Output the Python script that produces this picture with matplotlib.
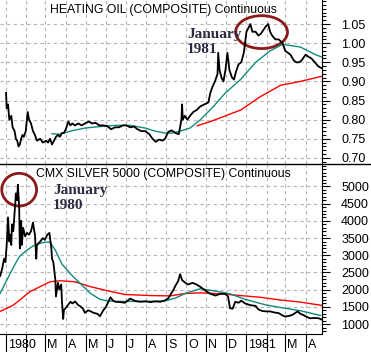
import matplotlib
matplotlib.use('Agg')
import matplotlib.pyplot as plt
import matplotlib.dates as mdates
import pandas as pd
from matplotlib.patches import Ellipse
from matplotlib.lines import Line2D
from matplotlib.transforms import ScaledTranslation

plt.rcParams['font.family'] = ['Liberation Sans', 'DejaVu Sans']

# days counted from 1980-01-01
oil_day = [0, 1, 3, 5, 8, 10, 13, 15, 17, 19, 21, 23, 25, 27, 30, 33, 35, 38, 41, 44,
           47, 52, 56, 61, 64, 67, 70, 73, 76, 79, 82, 85, 88, 91, 95, 98, 101, 105, 110, 115,
           120, 126, 131, 136, 142, 148, 154, 160, 166, 172, 178, 183, 189, 195, 200, 206, 212, 218, 223, 228,
           233, 238, 242, 247, 252, 258, 263, 267, 268, 269, 272, 276, 280, 285, 290, 296, 302, 308, 311, 314,
           318, 320, 322, 323, 325, 328, 331, 334, 337, 340, 344, 347, 350, 354, 358, 362, 366, 369, 372, 375,
           380, 384, 388, 392, 396, 399, 402, 405, 410, 415, 421, 425, 429, 433, 438, 442, 446, 450, 456, 460,
           465, 470, 475, 480]
oil_px = [0.87, 0.83, 0.84, 0.80, 0.81, 0.78, 0.77, 0.75, 0.745, 0.73, 0.735, 0.75, 0.76, 0.755, 0.77, 0.82, 0.80, 0.79, 0.77, 0.76,
          0.745, 0.75, 0.74, 0.745, 0.74, 0.75, 0.735, 0.745, 0.755, 0.76, 0.755, 0.765, 0.765, 0.775, 0.795, 0.785, 0.79, 0.785, 0.79, 0.785,
          0.79, 0.795, 0.79, 0.792, 0.785, 0.785, 0.783, 0.775, 0.78, 0.78, 0.785, 0.785, 0.78, 0.782, 0.775, 0.77, 0.77, 0.762, 0.75, 0.742,
          0.748, 0.745, 0.75, 0.768, 0.772, 0.765, 0.762, 0.80, 0.84, 0.80, 0.81, 0.80, 0.81, 0.82, 0.825, 0.835, 0.84, 0.845, 0.87, 0.885,
          0.90, 0.91, 0.92, 0.975, 0.93, 0.91, 0.90, 0.93, 0.975, 0.93, 0.91, 0.905, 0.925, 0.945, 0.95, 0.975, 1.03, 1.04, 1.05, 1.03,
          1.03, 1.02, 1.025, 1.035, 1.045, 1.05, 1.03, 1.02, 1.01, 1.01, 1.00, 0.98, 0.975, 0.97, 0.955, 0.95, 0.95, 0.955, 0.97, 0.965,
          0.96, 0.95, 0.94, 0.935]

oil_fast_day = [70, 82, 98, 120, 143, 166, 189, 212, 227, 242, 253, 265, 280, 296, 316, 334, 357, 380, 402, 421, 448, 471, 482]
oil_fast = [0.763, 0.762, 0.77, 0.778, 0.782, 0.785, 0.785, 0.778, 0.77, 0.765, 0.765, 0.77, 0.778, 0.80, 0.835, 0.87, 0.905, 0.95, 0.98, 0.997, 0.99, 0.97, 0.963]

oil_slow_day = [291, 311, 334, 357, 387, 418, 448, 482]
oil_slow = [0.784, 0.795, 0.81, 0.825, 0.86, 0.89, 0.90, 0.914]

silver_day = [-9, -6, -3, -1, 1, 3, 5, 6, 8, 9, 11, 14, 15, 17, 18, 20, 21, 23, 24, 26,
              29, 32, 35, 38, 41, 43, 44, 46, 47, 52, 56, 59, 63, 66, 69, 70, 72, 75, 76, 79,
              81, 84, 85, 87, 88, 93, 98, 101, 105, 110, 113, 117, 120, 125, 128, 133, 139, 143, 148, 152,
              155, 159, 163, 166, 174, 181, 189, 197, 204, 212, 220, 227, 235, 242, 247, 250, 255, 258, 262, 265,
              268, 273, 277, 284, 290, 296, 303, 311, 319, 326, 334, 338, 341, 345, 349, 354, 358, 364, 372, 380,
              384, 390, 396, 402, 408, 415, 421, 425, 431, 436, 444, 448, 453, 459, 463, 470, 476, 482]
silver_px = [2400, 2600, 2900, 2800, 3300, 4100, 3400, 3600, 3300, 3900, 3700, 4500, 4800, 4600, 5050, 4400, 3200, 4000, 3300, 3800,
             3550, 3650, 3600, 3700, 3950, 3700, 3600, 2900, 3300, 3400, 3500, 3450, 3600, 3650, 3200, 2900, 2800, 2300, 1800, 2200,
             2000, 2150, 1700, 1150, 1400, 1520, 1650, 1600, 1660, 1550, 1520, 1450, 1330, 1400, 1380, 1330, 1300, 1230, 1400, 1500,
             1620, 1780, 1680, 1650, 1640, 1620, 1740, 1670, 1650, 1660, 1640, 1660, 1650, 1690, 1750, 1850, 2000, 2120, 2250, 2450,
             2280, 2200, 2150, 2200, 2150, 2080, 1980, 1880, 1830, 1880, 1880, 1800, 1460, 1450, 1650, 1620, 1680, 1600, 1550, 1530,
             1430, 1380, 1370, 1370, 1340, 1320, 1250, 1220, 1240, 1270, 1370, 1300, 1260, 1200, 1170, 1180, 1170, 1120]

silver_fast_day = [-9, -1, 6, 14, 21, 32, 41, 52, 59, 67, 75, 85, 98, 113, 128, 143, 155, 174, 204, 242, 258, 273, 296, 319, 341, 364, 395, 425, 448, 479]
silver_fast = [1890, 2200, 2460, 2750, 2980, 3150, 3270, 3350, 3380, 3380, 3150, 2750, 2460, 2180, 1900, 1720, 1670, 1660, 1660, 1670, 1760, 1890, 2030, 1960, 1880, 1720, 1560, 1460, 1390, 1250]

silver_slow_day = [-9, 11, 37, 67, 82, 105, 128, 159, 181, 220, 250, 273, 296, 326, 357, 387, 418, 448, 482]
silver_slow = [1370, 1550, 1950, 2230, 2260, 2230, 2090, 1950, 1860, 1830, 1820, 1890, 1910, 1880, 1830, 1780, 1700, 1640, 1540]

month_labels = ['1980', '', 'M', 'A', 'M', 'J', 'J', 'A', 'S', 'O', 'N', 'D', '1981', '', 'M', 'A']

BASE = pd.Timestamp('1980-01-01')


def to_dates(days):
    return BASE + pd.to_timedelta(days, unit='D')


W, H = 371, 352
fig = plt.figure(figsize=(W / 100, H / 100), dpi=100)
ax1 = fig.add_axes([0, 1 - 164 / H, 322 / W, 164 / H])
ax2 = fig.add_axes([0, 1 - 334 / H, 322 / W, 169 / H])

grid_kw = dict(color='#b4b4b4', linestyle=(0, (3, 3)), linewidth=0.8)
months = pd.date_range('1980-01-01', '1981-04-01', freq='MS')

for ax in (ax1, ax2):
    ax.set_xlim(to_dates(-9.2), to_dates(481))
    ax.yaxis.tick_right()
    ax.spines['left'].set_visible(False)
    ax.spines['top'].set_visible(False)
    ax.set_xticks(months)
    ax.grid(True, **grid_kw)
    ax.set_axisbelow(True)
    ax.tick_params(axis='y', which='major', length=5.8, width=0.8, pad=8, labelsize=9)
    ax.tick_params(axis='y', which='minor', length=2.8, width=0.8)

ax1.spines['bottom'].set_visible(False)
ax1.tick_params(axis='x', length=0, labelbottom=False)

# heating oil
ax1.plot(to_dates(oil_slow_day), oil_slow, color='#ff0000', lw=1)
ax1.plot(to_dates(oil_fast_day), oil_fast, color='#13897a', lw=1)
ax1.plot(to_dates(oil_day), oil_px, color='black', lw=1.3)
ax1.set_ylim(0.684, 1.113)
ax1.set_yticks([0.70, 0.75, 0.80, 0.85, 0.90, 0.95, 1.00, 1.05])
ax1.set_yticklabels(['%.2f' % v for v in ax1.get_yticks()])
ax1.yaxis.set_minor_locator(matplotlib.ticker.MultipleLocator(0.01))

# silver
ax2.plot(to_dates(silver_slow_day), silver_slow, color='#ff0000', lw=1)
ax2.plot(to_dates(silver_fast_day), silver_fast, color='#13897a', lw=1)
ax2.plot(to_dates(silver_day), silver_px, color='black', lw=1.3)
ax2.set_ylim(713, 5623)
ax2.set_yticks(range(1000, 5001, 500))
ax2.yaxis.set_minor_locator(matplotlib.ticker.MultipleLocator(100))
ax2.set_xticklabels(month_labels, ha='left')
ax2.tick_params(axis='x', length=13, width=0.8, pad=-9.5, labelsize=9)
for lbl in ax2.get_xticklabels():
    lbl.set_transform(lbl.get_transform() + ScaledTranslation(2 / 100, 0, fig.dpi_scale_trans))

# separator between panels
fig.add_artist(Line2D([0, 1], [1 - 164 / H, 1 - 164 / H], transform=fig.transFigure, color='black', lw=1))

# titles
fig.text(50 / W, 1 - 4 / H, 'HEATING OIL (COMPOSITE) Continuous', va='top', fontsize=8.8)
fig.text(36 / W, 1 - 168 / H, 'CMX SILVER 5000 (COMPOSITE) Continuous', va='top', fontsize=8.8)

# highlights
circ = '#8b1a1a'
ax1.add_patch(Ellipse((mdates.date2num(to_dates(389)), 1.029), 79, 0.086,
                      fill=False, edgecolor=circ, lw=2))
ax2.add_patch(Ellipse((mdates.date2num(to_dates(20)), 4906), 53, 950,
                      fill=False, edgecolor=circ, lw=2, clip_on=False))
note_kw = dict(va='top', fontsize=11, fontweight='bold', color='#2e2a40',
               family='Liberation Serif', linespacing=1.2)
fig.text(187 / W, 1 - 28 / H, 'January\n1981', **note_kw)
fig.text(53 / W, 1 - 184 / H, 'January\n1980', **note_kw)

fig.savefig('out.png', dpi=100)
